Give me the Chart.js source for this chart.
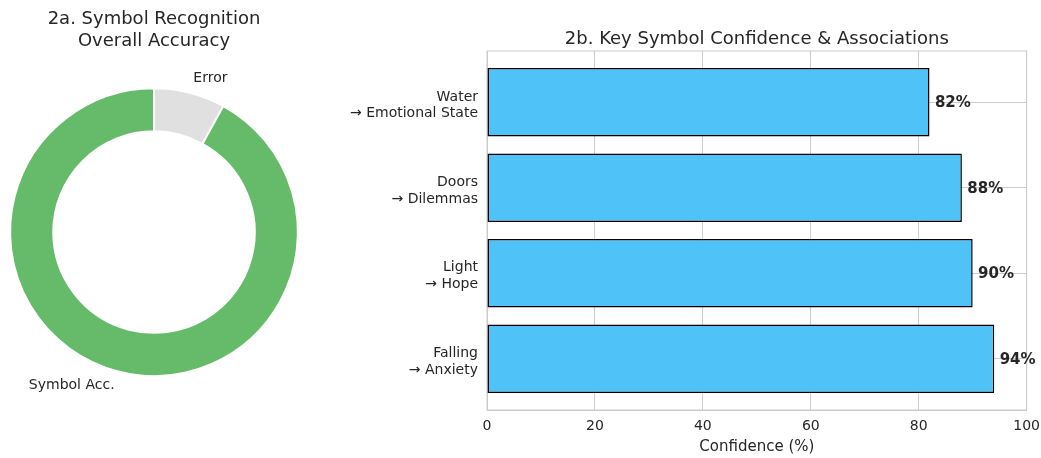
<!DOCTYPE html>
<html>
<head>
<meta charset="utf-8">
<script src="https://cdn.jsdelivr.net/npm/chart.js@4.4.1/dist/chart.umd.min.js"></script>
<style>
  body { margin: 0; background: #fff; overflow: hidden; }
  #wrap { position: relative; width: 1041px; height: 458px; overflow: hidden; }
  #accuracy-box { position: absolute; left: 0; top: 0; width: 310px; height: 458px; }
  #symbol-box { position: absolute; left: 330px; top: 0; width: 718px; height: 458px; }
</style>
</head>
<body>
<div id="wrap">
  <div id="accuracy-box"><canvas id="accuracy-chart"></canvas></div>
  <div id="symbol-box"><canvas id="symbol-chart"></canvas></div>
</div>
<script>
// Data
const accLabels = ['Error', 'Symbol Acc.'];
const accValues = [8, 92];

const symbols = ['Falling', 'Light', 'Doors', 'Water'];
const meanings = ['Anxiety', 'Hope', 'Dilemmas', 'Emotional State'];
const confidence = [94, 90, 88, 82];

const textColor = '#262626';
const gridColor = '#cccccc';
const fontFamily = '"DejaVu Sans", sans-serif';

// Labels outside the doughnut slices
const sliceLabels = {
  id: 'sliceLabels',
  afterDatasetsDraw(chart) {
    const ctx = chart.ctx;
    ctx.save();
    ctx.font = '14px ' + fontFamily;
    ctx.fillStyle = textColor;
    ctx.textBaseline = 'middle';
    chart.getDatasetMeta(0).data.forEach((arc, i) => {
      const p = arc.getProps(['x', 'y', 'startAngle', 'endAngle', 'outerRadius'], true);
      const mid = (p.startAngle + p.endAngle) / 2;
      const r = p.outerRadius * 1.1;
      ctx.textAlign = Math.cos(mid) >= 0 ? 'left' : 'right';
      ctx.fillText(accLabels[i], p.x + Math.cos(mid) * r, p.y + Math.sin(mid) * r);
    });
    ctx.restore();
  }
};

new Chart(document.getElementById('accuracy-chart'), {
  type: 'doughnut',
  data: {
    labels: accLabels,
    datasets: [{
      data: accValues,
      backgroundColor: ['#e0e0e0', '#66bb6a'],
      borderColor: '#ffffff',
      borderWidth: 2,
      hoverOffset: 0,
    }],
  },
  options: {
    responsive: true,
    maintainAspectRatio: false,
    animation: false,
    cutout: '70%',
    layout: { padding: { left: 9, right: 11, top: 0, bottom: 81 } },
    plugins: {
      legend: { display: false },
      tooltip: { enabled: false },
      title: {
        display: true,
        text: ['2a. Symbol Recognition', 'Overall Accuracy'],
        color: textColor,
        font: { family: fontFamily, size: 18, weight: 'normal' },
        lineHeight: 1.15,
        padding: { top: 9, bottom: 35 },
      },
    },
  },
  plugins: [sliceLabels],
});

// Title centred over the plot area, frame and value labels
const barExtras = {
  id: 'barExtras',
  beforeDatasetsDraw(chart) {
    const { ctx, chartArea: a } = chart;
    ctx.save();
    ctx.strokeStyle = gridColor;
    ctx.lineWidth = 1;
    ctx.strokeRect(a.left, a.top, a.right - a.left, a.bottom - a.top);
    ctx.restore();
  },
  afterDatasetsDraw(chart) {
    const { ctx, chartArea: a } = chart;
    const xScale = chart.scales.x;
    ctx.save();
    ctx.fillStyle = textColor;
    ctx.font = '18px ' + fontFamily;
    ctx.textAlign = 'center';
    ctx.textBaseline = 'middle';
    ctx.fillText('2b. Key Symbol Confidence & Associations', (a.left + a.right) / 2, 39);

    ctx.font = 'bold 15px ' + fontFamily;
    ctx.textAlign = 'left';
    chart.getDatasetMeta(0).data.forEach((bar, i) => {
      ctx.fillText(confidence[i] + '%', xScale.getPixelForValue(confidence[i] + 1), bar.y + 1);
    });
    ctx.restore();
  }
};

new Chart(document.getElementById('symbol-chart'), {
  type: 'bar',
  data: {
    datasets: [{
      data: confidence.map((v, i) => ({ x: v, y: i })),
      backgroundColor: '#4fc3f7',
      borderColor: '#000000',
      borderWidth: 1.5,
      borderSkipped: false,
      barPercentage: 0.8,
      categoryPercentage: 1,
    }],
  },
  options: {
    indexAxis: 'y',
    responsive: true,
    maintainAspectRatio: false,
    animation: false,
    layout: { padding: { left: 0, right: 8, top: 51, bottom: 0 } },
    plugins: {
      legend: { display: false },
      tooltip: { enabled: false },
    },
    scales: {
      x: {
        type: 'linear',
        min: 0,
        max: 100,
        ticks: {
          stepSize: 20,
          padding: 8,
          color: textColor,
          font: { family: fontFamily, size: 14 },
        },
        grid: { color: gridColor, drawTicks: false },
        border: { color: gridColor },
        title: {
          display: true,
          text: 'Confidence (%)',
          color: textColor,
          font: { family: fontFamily, size: 15 },
          padding: { top: 0, bottom: 2 },
        },
        afterFit: (s) => { s.height = 48; },
      },
      y: {
        type: 'linear',
        min: -0.6,
        max: 3.6,
        offset: false,
        afterBuildTicks: (s) => { s.ticks = symbols.map((_, i) => ({ value: i })); },
        ticks: {
          padding: 9,
          labelOffset: 3,
          color: textColor,
          font: { family: fontFamily, size: 14 },
          callback: (v) => [symbols[v], '→ ' + meanings[v]],
        },
        grid: { color: gridColor, drawTicks: false, offset: false },
        border: { color: gridColor },
        afterFit: (s) => { s.width = 157; },
      },
    },
  },
  plugins: [barExtras],
});
</script>
</body>
</html>
